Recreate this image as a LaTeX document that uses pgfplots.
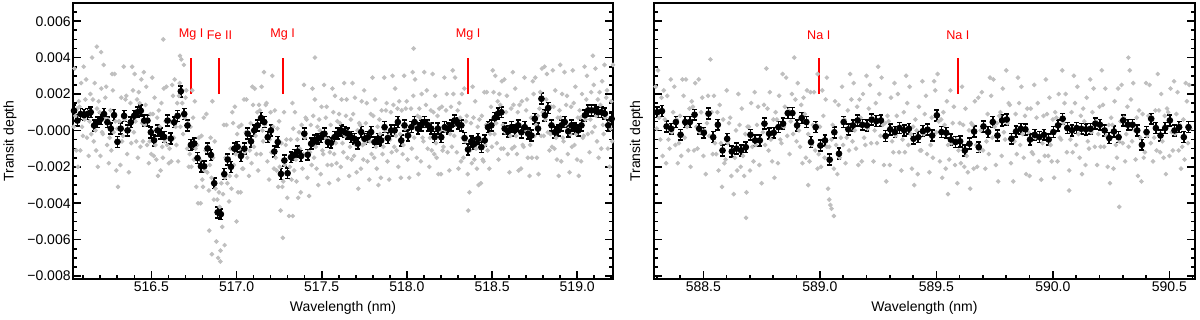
\documentclass[border=0pt]{standalone}
\usepackage{pgfplots}
\pgfplotsset{compat=1.18}
\usepackage{fontspec}
\setmainfont{Liberation Sans}
\definecolor{cloud}{gray}{0.75}

\pgfplotsset{
  panel/.style={
    scale only axis, height=138pt,
    ymin=-0.00816, ymax=0.0070,
    axis line style={line width=1pt},
    every tick/.style={black, line width=0.8pt},
    tick align=inside, xtick pos=left, ytick pos=both,
    major tick length=4pt, minor tick length=2pt,
    ytick={-0.008,-0.006,-0.004,-0.002,0,0.002,0.004,0.006},
    minor ytick={-0.0075,-0.007,-0.0065,-0.0055,-0.005,-0.0045,-0.0035,-0.003,-0.0025,-0.0015,-0.001,-0.0005,0.0005,0.001,0.0015,0.0025,0.003,0.0035,0.0045,0.005,0.0055,0.0065},
    scaled y ticks=false,
    tick label style={font=\fontsize{7}{8}\selectfont},
    xticklabel style={inner sep=0.8pt, yshift=-0.6pt},
    yticklabel style={inner sep=1pt},
    label style={font=\fontsize{7}{8}\selectfont},
    xlabel={Wavelength (nm)},
    ylabel={Transit depth},
    xlabel style={at={(axis description cs:0.5,-0.105)}, anchor=center},
  },
  gray pts/.style={only marks, mark=*, mark size=0.95pt, color=cloud},
  bins/.style={only marks, mark=*, mark size=1.45pt, black,
    error bars/.cd, y dir=both, y fixed=0.0003,
    error bar style={line width=0.8pt, black},
    error mark options={rotate=90, mark size=1.2pt, line width=0.8pt, black}},
}
\tikzset{tag/.style={red, font=\fontsize{6.3}{7}\selectfont}}

\begin{document}
\begin{tikzpicture}
% ---------------- left panel: Mg I / Fe II ----------------
\begin{axis}[panel, at={(36.5pt,20.5pt)}, anchor=south west, width=270pt,
  xmin=516.04, xmax=519.21,
  xtick={516.5,517,517.5,518,518.5,519},
  xticklabels={516.5,517.0,517.5,518.0,518.5,519.0},
  minor xtick={516.1,516.2,516.3,516.4,516.6,516.7,516.8,516.9,517.1,517.2,517.3,517.4,517.6,517.7,517.8,517.9,518.1,518.2,518.3,518.4,518.6,518.7,518.8,518.9,519.1,519.2},
  yticklabels={−0.008,−0.006,−0.004,−0.002,−0.000,0.002,0.004,0.006},
  ylabel style={at={(axis description cs:-0.1167,0.5)}, anchor=center},
]
\addplot[gray pts] coordinates {
(516.039,0.0025)(516.044,0.0002)(516.049,0.0034)(516.054,0.0008)
(516.059,-0.0011)(516.064,0.0012)(516.069,-0.0020)(516.074,0.0016)
(516.078,0.0013)(516.083,-0.0011)(516.088,0.0026)(516.093,0.0002)
(516.098,-0.0003)(516.103,0.0035)(516.108,0.0006)(516.113,0.0017)
(516.117,0.0028)(516.122,-0.0004)(516.127,0.0010)(516.132,-0.0014)
(516.137,0.0005)(516.142,0.0020)(516.147,-0.0002)(516.152,0.0040)
(516.157,0.0017)(516.162,-0.0006)(516.167,0.0026)(516.172,0)
(516.176,-0.0011)(516.181,0.0012)(516.186,-0.0020)(516.191,0.0016)
(516.196,0.0010)(516.201,-0.0014)(516.206,0.0023)(516.211,-0.0001)
(516.215,-0.0002)(516.220,0.0036)(516.225,0.0007)(516.230,0.0018)
(516.235,0.0024)(516.240,-0.0008)(516.245,0.0006)(516.250,-0.0018)
(516.255,-0.0004)(516.260,0.0011)(516.265,-0.0011)(516.270,0.0031)
(516.274,0.0022)(516.279,-0.0001)(516.284,0.0031)(516.289,0.0005)
(516.294,-0.0022)(516.299,0.0001)(516.304,-0.0031)(516.309,0.0005)
(516.313,0.0005)(516.318,-0.0019)(516.323,0.0018)(516.328,-0.0006)
(516.333,-0.0003)(516.338,0.0035)(516.343,0.0006)(516.348,0.0017)
(516.353,0.0019)(516.358,-0.0013)(516.363,0.0001)(516.368,-0.0023)
(516.372,0)(516.377,0.0015)(516.382,-0.0007)(516.387,0.0035)
(516.392,0.0022)(516.397,-0.0001)(516.402,0.0031)(516.407,0.0005)
(516.411,-0.0006)(516.416,0.0017)(516.421,-0.0015)(516.426,0.0021)
(516.431,0.0015)(516.436,-0.0009)(516.441,0.0028)(516.446,0.0004)
(516.451,-0.0006)(516.456,0.0032)(516.461,0.0003)(516.466,0.0014)
(516.470,0.0024)(516.475,-0.0008)(516.480,0.0006)(516.485,-0.0018)
(516.490,-0.0006)(516.495,0.0009)(516.500,-0.0013)(516.505,0.0029)
(516.509,0.0009)(516.514,-0.0014)(516.519,0.0018)(516.524,-0.0008)
(516.529,-0.0016)(516.534,0.0007)(516.539,-0.0025)(516.544,0.0011)
(516.549,0.0002)(516.554,-0.0022)(516.559,0.0015)(516.564,-0.0009)
(516.568,-0.0015)(516.573,0.0023)(516.578,-0.0006)(516.583,0.0005)
(516.588,0.0024)(516.593,-0.0008)(516.598,0.0006)(516.603,-0.0018)
(516.607,-0.0010)(516.612,0.0005)(516.617,-0.0017)(516.622,0.0025)
(516.627,0.0019)(516.632,-0.0004)(516.637,0.0028)(516.642,0.0002)
(516.647,-0.0008)(516.652,0.0015)(516.657,-0.0017)(516.662,0.0019)
(516.666,0.0026)(516.671,0.0002)(516.676,0.0039)(516.681,0.0015)
(516.686,-0.0002)(516.691,0.0036)(516.696,0.0007)(516.701,0.0018)
(516.705,0.0022)(516.710,-0.0010)(516.715,0.0004)(516.720,-0.0020)
(516.725,-0.0013)(516.730,0.0002)(516.735,-0.0020)(516.740,0.0022)
(516.745,0.0007)(516.750,-0.0016)(516.755,0.0016)(516.760,-0.0010)
(516.764,-0.0031)(516.769,-0.0008)(516.774,-0.0040)(516.779,-0.0004)
(516.784,-0.0016)(516.789,-0.0040)(516.794,-0.0003)(516.799,-0.0027)
(516.803,-0.0031)(516.808,0.0007)(516.813,-0.0022)(516.818,-0.0011)
(516.823,0.0009)(516.828,-0.0023)(516.833,-0.0009)(516.838,-0.0033)
(516.843,-0.0019)(516.848,-0.0004)(516.853,-0.0026)(516.858,0.0016)
(516.862,-0.0015)(516.867,-0.0038)(516.872,-0.0006)(516.877,-0.0032)
(516.882,-0.0061)(516.887,-0.0038)(516.892,-0.0070)(516.897,-0.0034)
(516.901,-0.0042)(516.906,-0.0066)(516.911,-0.0029)(516.916,-0.0053)
(516.921,-0.0035)(516.926,0.0003)(516.931,-0.0026)(516.936,-0.0015)
(516.941,0.0003)(516.946,-0.0029)(516.951,-0.0015)(516.956,-0.0039)
(516.960,-0.0025)(516.965,-0.0010)(516.970,-0.0032)(516.975,0.0010)
(516.980,0.0004)(516.985,-0.0019)(516.990,0.0013)(516.995,-0.0013)
(516.999,-0.0025)(517.004,-0.0002)(517.009,-0.0034)(517.014,0.0002)
(517.019,-0.0010)(517.024,-0.0034)(517.029,0.0003)(517.034,-0.0021)
(517.039,-0.0021)(517.044,0.0017)(517.049,-0.0012)(517.054,-0.0001)
(517.058,0.0017)(517.063,-0.0015)(517.068,-0.0001)(517.073,-0.0025)
(517.078,-0.0011)(517.083,0.0004)(517.088,-0.0018)(517.093,0.0024)
(517.097,0.0014)(517.102,-0.0009)(517.107,0.0023)(517.112,-0.0003)
(517.117,-0.0013)(517.122,0.0010)(517.127,-0.0022)(517.132,0.0014)
(517.137,0.0011)(517.142,-0.0013)(517.147,0.0024)(517.152,0)
(517.156,-0.0006)(517.161,0.0032)(517.166,0.0003)(517.171,0.0014)
(517.176,0.0015)(517.181,-0.0017)(517.186,-0.0003)(517.191,-0.0027)
(517.195,-0.0005)(517.200,0.0010)(517.205,-0.0012)(517.210,0.0030)
(517.215,0.0002)(517.220,-0.0021)(517.225,0.0011)(517.230,-0.0015)
(517.235,-0.0022)(517.240,0.0001)(517.245,-0.0031)(517.250,0.0005)
(517.254,-0.0020)(517.259,-0.0044)(517.264,-0.0007)(517.269,-0.0031)
(517.274,-0.0028)(517.279,0.0010)(517.284,-0.0019)(517.289,-0.0008)
(517.293,-0.0005)(517.298,-0.0037)(517.303,-0.0023)(517.308,-0.0047)
(517.313,-0.0020)(517.318,-0.0005)(517.323,-0.0027)(517.328,0.0015)
(517.333,0.0001)(517.338,-0.0022)(517.343,0.0010)(517.348,-0.0016)
(517.352,-0.0028)(517.357,-0.0005)(517.362,-0.0037)(517.367,-0.0001)
(517.372,-0.0010)(517.377,-0.0034)(517.382,0.0003)(517.387,-0.0021)
(517.391,-0.0013)(517.396,0.0025)(517.401,-0.0004)(517.406,0.0007)
(517.411,0.0006)(517.416,-0.0026)(517.421,-0.0012)(517.426,-0.0036)
(517.431,-0.0012)(517.436,0.0003)(517.441,-0.0019)(517.446,0.0023)
(517.450,0.0008)(517.455,-0.0015)(517.460,0.0017)(517.465,-0.0009)
(517.470,-0.0021)(517.475,0.0002)(517.480,-0.0030)(517.485,0.0006)
(517.489,0)(517.494,-0.0024)(517.499,0.0013)(517.504,-0.0011)
(517.509,-0.0013)(517.514,0.0025)(517.519,-0.0004)(517.524,0.0007)
(517.529,0.0013)(517.534,-0.0019)(517.539,-0.0005)(517.544,-0.0029)
(517.548,-0.0012)(517.553,0.0003)(517.558,-0.0019)(517.563,0.0023)
(517.568,0.0010)(517.573,-0.0013)(517.578,0.0019)(517.583,-0.0007)
(517.587,-0.0018)(517.592,0.0005)(517.597,-0.0027)(517.602,0.0009)
(517.607,0.0004)(517.612,-0.0020)(517.617,0.0017)(517.622,-0.0007)
(517.627,-0.0012)(517.632,0.0026)(517.637,-0.0003)(517.642,0.0008)
(517.646,0.0017)(517.651,-0.0015)(517.656,-0.0001)(517.661,-0.0025)
(517.666,-0.0009)(517.671,0.0006)(517.676,-0.0016)(517.681,0.0026)
(517.685,0.0009)(517.690,-0.0014)(517.695,0.0018)(517.700,-0.0008)
(517.705,-0.0023)(517.710,0)(517.715,-0.0032)(517.720,0.0004)
(517.725,0.0003)(517.730,-0.0021)(517.735,0.0016)(517.740,-0.0008)
(517.744,-0.0016)(517.749,0.0022)(517.754,-0.0007)(517.759,0.0004)
(517.764,0.0015)(517.769,-0.0017)(517.774,-0.0003)(517.779,-0.0027)
(517.783,-0.0006)(517.788,0.0009)(517.793,-0.0013)(517.798,0.0029)
(517.803,0.0008)(517.808,-0.0015)(517.813,0.0017)(517.818,-0.0009)
(517.823,-0.0021)(517.828,0.0002)(517.833,-0.0030)(517.838,0.0006)
(517.842,-0.0002)(517.847,-0.0026)(517.852,0.0011)(517.857,-0.0013)
(517.862,-0.0009)(517.867,0.0029)(517.872,0)(517.877,0.0011)
(517.881,0.0015)(517.886,-0.0017)(517.891,-0.0003)(517.896,-0.0027)
(517.901,-0.0005)(517.906,0.0010)(517.911,-0.0012)(517.916,0.0030)
(517.921,0.0014)(517.926,-0.0009)(517.931,0.0023)(517.936,-0.0003)
(517.940,-0.0011)(517.945,0.0012)(517.950,-0.0020)(517.955,0.0016)
(517.960,-0.0002)(517.965,-0.0026)(517.970,0.0011)(517.975,-0.0013)
(517.979,-0.0008)(517.984,0.0030)(517.989,0.0001)(517.994,0.0012)
(517.999,0.0016)(518.004,-0.0016)(518.009,-0.0002)(518.014,-0.0026)
(518.019,-0.0003)(518.024,0.0012)(518.029,-0.0010)(518.034,0.0032)
(518.038,0.0019)(518.043,-0.0004)(518.048,0.0028)(518.053,0.0002)
(518.058,-0.0015)(518.063,0.0008)(518.068,-0.0024)(518.073,0.0012)
(518.077,0.0007)(518.082,-0.0017)(518.087,0.0020)(518.092,-0.0004)
(518.097,-0.0006)(518.102,0.0032)(518.107,0.0003)(518.112,0.0014)
(518.117,0.0022)(518.122,-0.0010)(518.127,0.0004)(518.132,-0.0020)
(518.136,-0.0004)(518.141,0.0011)(518.146,-0.0011)(518.151,0.0031)
(518.156,0.0010)(518.161,-0.0013)(518.166,0.0019)(518.171,-0.0007)
(518.175,-0.0015)(518.180,0.0008)(518.185,-0.0024)(518.190,0.0012)
(518.195,0)(518.200,-0.0024)(518.205,0.0013)(518.210,-0.0011)
(518.215,-0.0009)(518.220,0.0029)(518.225,0)(518.230,0.0011)
(518.234,0.0020)(518.239,-0.0012)(518.244,0.0002)(518.249,-0.0022)
(518.254,-0.0002)(518.259,0.0013)(518.264,-0.0009)(518.269,0.0033)
(518.273,0.0020)(518.278,-0.0003)(518.283,0.0029)(518.288,0.0003)
(518.293,-0.0012)(518.298,0.0011)(518.303,-0.0021)(518.308,0.0015)
(518.313,0.0007)(518.318,-0.0017)(518.323,0.0020)(518.328,-0.0004)
(518.332,-0.0015)(518.337,0.0023)(518.342,-0.0006)(518.347,0.0005)
(518.352,0.0008)(518.357,-0.0024)(518.362,-0.0010)(518.367,-0.0034)
(518.371,-0.0011)(518.376,0.0004)(518.381,-0.0018)(518.386,0.0024)
(518.391,0.0007)(518.396,-0.0016)(518.401,0.0016)(518.406,-0.0010)
(518.411,-0.0021)(518.416,0.0002)(518.421,-0.0030)(518.426,0.0006)
(518.430,-0.0005)(518.435,-0.0029)(518.440,0.0008)(518.445,-0.0016)
(518.450,-0.0017)(518.455,0.0021)(518.460,-0.0008)(518.465,0.0003)
(518.469,0.0021)(518.474,-0.0011)(518.479,0.0003)(518.484,-0.0021)
(518.489,-0.0002)(518.494,0.0013)(518.499,-0.0009)(518.504,0.0033)
(518.509,0.0021)(518.514,-0.0002)(518.519,0.0030)(518.524,0.0004)
(518.528,-0.0007)(518.533,0.0016)(518.538,-0.0016)(518.543,0.0020)
(518.548,0.0014)(518.553,-0.0010)(518.558,0.0027)(518.563,0.0003)
(518.567,-0.0010)(518.572,0.0028)(518.577,-0.0001)(518.582,0.0010)
(518.587,0.0019)(518.592,-0.0013)(518.597,0.0001)(518.602,-0.0023)
(518.607,-0.0003)(518.612,0.0012)(518.617,-0.0010)(518.622,0.0032)
(518.626,0.0014)(518.631,-0.0009)(518.636,0.0023)(518.641,-0.0003)
(518.646,-0.0013)(518.651,0.0010)(518.656,-0.0022)(518.661,0.0014)
(518.665,0.0003)(518.670,-0.0021)(518.675,0.0016)(518.680,-0.0008)
(518.685,-0.0009)(518.690,0.0029)(518.695,0)(518.700,0.0011)
(518.705,0.0017)(518.710,-0.0015)(518.715,-0.0001)(518.720,-0.0025)
(518.724,-0.0008)(518.729,0.0007)(518.734,-0.0015)(518.739,0.0027)
(518.744,0.0020)(518.749,-0.0003)(518.754,0.0029)(518.759,0.0003)
(518.763,-0.0015)(518.768,0.0008)(518.773,-0.0024)(518.778,0.0012)
(518.783,0.0021)(518.788,-0.0003)(518.793,0.0034)(518.798,0.0010)
(518.803,-0.0003)(518.808,0.0035)(518.813,0.0006)(518.818,0.0017)
(518.822,0.0031)(518.827,-0.0001)(518.832,0.0013)(518.837,-0.0011)
(518.842,-0.0002)(518.847,0.0013)(518.852,-0.0009)(518.857,0.0033)
(518.861,0.0013)(518.866,-0.0010)(518.871,0.0022)(518.876,-0.0004)
(518.881,-0.0016)(518.886,0.0007)(518.891,-0.0025)(518.896,0.0011)
(518.901,0.0007)(518.906,-0.0017)(518.911,0.0020)(518.916,-0.0004)
(518.920,-0.0006)(518.925,0.0032)(518.930,0.0003)(518.935,0.0014)
(518.940,0.0019)(518.945,-0.0013)(518.950,0.0001)(518.955,-0.0023)
(518.959,-0.0002)(518.964,0.0013)(518.969,-0.0009)(518.974,0.0033)
(518.979,0.0015)(518.984,-0.0008)(518.989,0.0024)(518.994,-0.0002)
(518.999,-0.0016)(519.004,0.0007)(519.009,-0.0025)(519.014,0.0011)
(519.018,0.0007)(519.023,-0.0017)(519.028,0.0020)(519.033,-0.0004)
(519.038,-0.0003)(519.043,0.0035)(519.048,0.0006)(519.053,0.0017)
(519.057,0.0030)(519.062,-0.0002)(519.067,0.0012)(519.072,-0.0012)
(519.077,0.0006)(519.082,0.0021)(519.087,-0.0001)(519.092,0.0041)
(519.097,0.0025)(519.102,0.0002)(519.107,0.0034)(519.112,0.0008)
(519.116,-0.0006)(519.121,0.0017)(519.126,-0.0015)(519.131,0.0021)
(519.136,0.0014)(519.141,-0.0010)(519.146,0.0027)(519.151,0.0003)
(519.155,-0.0002)(519.160,0.0036)(519.165,0.0007)(519.170,0.0018)
(519.175,0.0022)(519.180,-0.0010)(519.185,0.0004)(519.190,-0.0020)
(519.195,0.0001)(519.200,0.0016)(519.205,-0.0006)(519.210,0.0036)
(516.180,0.0046)(516.205,0.0043)(516.570,0.0050)(516.668,0.0041)
(516.855,-0.0068)(516.905,-0.0072)(516.930,-0.0063)(517.272,-0.0059)
(517.330,-0.0047)(518.040,0.0045)(517.000,-0.0050)(516.840,-0.0055)
(517.460,0.0040)(518.900,0.0036)(518.360,-0.0044)
};
\addplot[red, line width=1pt] coordinates {(516.733,0.002)(516.733,0.004)};
\addplot[red, line width=1pt] coordinates {(516.900,0.002)(516.900,0.004)};
\addplot[red, line width=1pt] coordinates {(517.270,0.002)(517.270,0.004)};
\addplot[red, line width=1pt] coordinates {(518.360,0.002)(518.360,0.004)};
\node[tag] at (axis cs:516.733,0.00525) {Mg I};
\node[tag] at (axis cs:516.900,0.00525) {Fe II};
\node[tag] at (axis cs:517.270,0.00525) {Mg I};
\node[tag] at (axis cs:518.360,0.00525) {Mg I};
\addplot[bins] coordinates {
(516.046,0.00108)(516.066,0.00054)(516.085,0.0009)(516.105,0.00084)(516.124,0.0009)
(516.144,0.001)(516.164,0.00027)(516.183,0.00045)(516.203,0.00063)(516.222,0.0009)
(516.242,0.00045)(516.262,0.0001)(516.281,0.00084)(516.301,-0.00063)(516.320,0.0001)
(516.340,0.0008)(516.360,0)(516.379,0.00045)(516.399,0.0008)(516.418,0.001)
(516.438,0.00108)(516.458,0.00054)(516.477,0.00054)(516.497,-0.0001)(516.516,-0.00054)
(516.536,0)(516.556,-0.00018)(516.575,-0.00036)(516.595,0.00054)(516.614,-0.00045)
(516.634,0.00045)(516.654,0.0008)(516.673,0.00215)(516.693,0.0009)(516.712,0.00027)
(516.732,-0.0008)(516.752,-0.00072)(516.771,-0.00152)(516.791,-0.00197)(516.810,-0.00197)
(516.830,-0.00099)(516.850,-0.00135)(516.869,-0.0029)(516.889,-0.0045)(516.908,-0.0046)
(516.928,-0.0024)(516.948,-0.0016)(516.967,-0.002)(516.987,-0.001)(517.006,-0.0009)
(517.026,-0.0014)(517.046,-0.001)(517.065,-0.00018)(517.085,-0.0006)(517.104,0)
(517.124,0.00028)(517.144,0.00068)(517.163,0.00046)(517.183,-0.00037)(517.202,0)
(517.222,-0.00116)(517.242,-0.00064)(517.261,-0.00239)(517.281,-0.00165)(517.300,-0.00235)
(517.320,-0.00147)(517.340,-0.00134)(517.359,-0.00116)(517.379,-0.00141)(517.398,-0.00018)
(517.418,-0.00134)(517.438,-0.00073)(517.457,-0.00055)(517.477,-0.00046)(517.496,-0.00037)
(517.516,-0.00018)(517.536,-0.00064)(517.555,-0.00068)(517.575,-0.00037)(517.594,-0.00018)
(517.614,0)(517.634,-0.00009)(517.653,-0.00018)(517.673,-0.00037)(517.692,-0.00046)
(517.712,-0.00073)(517.732,-0.00009)(517.751,-0.00046)(517.771,-0.00037)(517.790,-0.00009)
(517.810,-0.00064)(517.830,-0.00046)(517.849,-0.00055)(517.869,0.00018)(517.888,-0.00042)
(517.908,0)(517.928,0)(517.947,0.00046)(517.967,-0.00055)(517.986,0.00028)
(518.006,-0.00028)(518.026,0.00018)(518.045,0.00046)(518.065,0.0001)(518.084,0.00028)
(518.104,0.00046)(518.124,0.00028)(518.143,0.0001)(518.163,-0.00037)(518.182,0.0001)
(518.202,-0.00037)(518.222,0.00018)(518.241,0.0001)(518.261,0.00028)(518.280,0.00055)
(518.300,0.00037)(518.320,0.00028)(518.339,-0.00042)(518.359,-0.00105)(518.378,-0.0006)
(518.398,-0.00073)(518.418,-0.00046)(518.437,-0.00092)(518.457,-0.00055)(518.476,0.00018)
(518.496,0.00028)(518.516,0.00068)(518.535,0.00092)(518.555,0.001)(518.574,0.0001)
(518.594,-0.00005)(518.614,0.00018)(518.633,0)(518.653,0.00028)(518.672,-0.0001)
(518.692,0.00018)(518.712,-0.00018)(518.731,-0.00028)(518.751,0.00064)(518.770,0.0001)
(518.790,0.00174)(518.810,0.00083)(518.829,0.00123)(518.849,0.00028)(518.868,-0.0001)
(518.888,0)(518.908,0.00028)(518.927,0.00046)(518.947,-0.00005)(518.966,0.00028)
(518.986,0.0001)(519.006,0)(519.025,0.00028)(519.045,0.00083)(519.064,0.0011)
(519.084,0.0011)(519.104,0.0011)(519.123,0.001)(519.143,0.001)(519.162,0.00092)
(519.182,0.00028)(519.202,0.00064)
};
\end{axis}

% ---------------- right panel: Na D ----------------
\begin{axis}[panel, at={(327pt,20.5pt)}, anchor=south west, width=270.5pt,
  xmin=588.288, xmax=590.61,
  xtick={588.5,589,589.5,590,590.5},
  xticklabels={588.5,589.0,589.5,590.0,590.5},
  minor xtick={588.3,588.4,588.6,588.7,588.8,588.9,589.1,589.2,589.3,589.4,589.6,589.7,589.8,589.9,590.1,590.2,590.3,590.4,590.6},
  yticklabels={},
  ylabel style={at={(axis description cs:-0.0322,0.5)}, anchor=center},
]
\addplot[gray pts] coordinates {
(588.295,0.0024)(588.300,0.0001)(588.305,0.0033)(588.310,0.0007)
(588.315,-0.0005)(588.320,0.0018)(588.325,-0.0014)(588.330,0.0022)
(588.335,0.0006)(588.340,-0.0018)(588.345,0.0019)(588.350,-0.0005)
(588.355,-0.0010)(588.360,0.0028)(588.365,-0.0001)(588.370,0.0010)
(588.375,0.0024)(588.380,-0.0008)(588.385,0.0006)(588.390,-0.0018)
(588.395,-0.0007)(588.400,0.0008)(588.405,-0.0014)(588.410,0.0028)
(588.415,0.0019)(588.420,-0.0004)(588.425,0.0028)(588.430,0.0002)
(588.435,-0.0011)(588.440,0.0012)(588.445,-0.0020)(588.450,0.0016)
(588.455,0.0013)(588.460,-0.0011)(588.465,0.0026)(588.470,0.0002)
(588.475,-0.0010)(588.480,0.0028)(588.485,-0.0001)(588.490,0.0010)
(588.495,0.0018)(588.500,-0.0014)(588.505,0)(588.510,-0.0024)
(588.515,0.0004)(588.520,0.0019)(588.525,-0.0003)(588.530,0.0039)
(588.535,0.0010)(588.540,-0.0013)(588.545,0.0019)(588.550,-0.0007)
(588.555,-0.0013)(588.560,0.0010)(588.565,-0.0022)(588.570,0.0014)
(588.575,-0.0007)(588.580,-0.0031)(588.585,0.0006)(588.590,-0.0018)
(588.595,-0.0016)(588.600,0.0022)(588.605,-0.0007)(588.610,0.0004)
(588.615,0.0007)(588.620,-0.0025)(588.625,-0.0011)(588.630,-0.0035)
(588.635,-0.0015)(588.640,0)(588.645,-0.0022)(588.650,0.0020)
(588.655,0.0003)(588.660,-0.0020)(588.665,0.0012)(588.670,-0.0014)
(588.675,-0.0025)(588.680,-0.0002)(588.685,-0.0034)(588.690,0.0002)
(588.695,0.0002)(588.700,-0.0022)(588.705,0.0015)(588.710,-0.0009)
(588.715,-0.0017)(588.720,0.0021)(588.725,-0.0008)(588.730,0.0003)
(588.735,0.0013)(588.740,-0.0019)(588.745,-0.0005)(588.750,-0.0029)
(588.755,-0.0001)(588.760,0.0014)(588.765,-0.0008)(588.770,0.0034)
(588.775,0.0012)(588.780,-0.0011)(588.785,0.0021)(588.790,-0.0005)
(588.795,-0.0017)(588.800,0.0006)(588.805,-0.0026)(588.810,0.0010)
(588.815,0.0006)(588.820,-0.0018)(588.825,0.0019)(588.830,-0.0005)
(588.835,-0.0007)(588.840,0.0031)(588.845,0.0002)(588.850,0.0013)
(588.855,0.0029)(588.860,-0.0003)(588.865,0.0011)(588.870,-0.0013)
(588.875,0.0005)(588.880,0.0020)(588.885,-0.0002)(588.890,0.0040)
(588.895,0.0017)(588.900,-0.0006)(588.905,0.0026)(588.910,0)
(588.915,-0.0009)(588.920,0.0014)(588.925,-0.0018)(588.930,0.0018)
(588.935,0.0009)(588.940,-0.0015)(588.945,0.0022)(588.950,-0.0002)
(588.955,-0.0017)(588.960,0.0021)(588.965,-0.0008)(588.970,0.0003)
(588.975,0.0021)(588.980,-0.0011)(588.985,0.0003)(588.990,-0.0021)
(588.995,-0.0013)(589.000,0.0002)(589.005,-0.0020)(589.010,0.0022)
(589.015,0.0008)(589.020,-0.0015)(589.025,0.0017)(589.030,-0.0009)
(589.035,-0.0032)(589.040,-0.0009)(589.045,-0.0041)(589.050,-0.0005)
(589.055,0.0003)(589.060,-0.0021)(589.065,0.0016)(589.070,-0.0008)
(589.075,-0.0024)(589.080,0.0014)(589.085,-0.0015)(589.090,-0.0004)
(589.095,0.0024)(589.100,-0.0008)(589.105,0.0006)(589.110,-0.0018)
(589.115,-0.0004)(589.120,0.0011)(589.125,-0.0011)(589.130,0.0031)
(589.135,0.0017)(589.140,-0.0006)(589.145,0.0026)(589.150,0)
(589.155,-0.0010)(589.160,0.0013)(589.165,-0.0019)(589.170,0.0017)
(589.175,0.0007)(589.180,-0.0017)(589.185,0.0020)(589.190,-0.0004)
(589.195,-0.0008)(589.200,0.0030)(589.205,0.0001)(589.210,0.0012)
(589.215,0.0025)(589.220,-0.0007)(589.225,0.0007)(589.230,-0.0017)
(589.235,0)(589.240,0.0015)(589.245,-0.0007)(589.250,0.0035)
(589.255,0.0020)(589.260,-0.0003)(589.265,0.0029)(589.270,0.0003)
(589.275,-0.0019)(589.280,0.0004)(589.285,-0.0028)(589.290,0.0008)
(589.295,0.0005)(589.300,-0.0019)(589.305,0.0018)(589.310,-0.0006)
(589.315,-0.0012)(589.320,0.0026)(589.325,-0.0003)(589.330,0.0008)
(589.335,0.0020)(589.340,-0.0012)(589.345,0.0002)(589.350,-0.0022)
(589.355,-0.0005)(589.360,0.0010)(589.365,-0.0012)(589.370,0.0030)
(589.375,0.0015)(589.380,-0.0008)(589.385,0.0024)(589.390,-0.0002)
(589.395,-0.0021)(589.400,0.0002)(589.405,-0.0030)(589.410,0.0006)
(589.415,0)(589.420,-0.0024)(589.425,0.0013)(589.430,-0.0011)
(589.435,-0.0011)(589.440,0.0027)(589.445,-0.0002)(589.450,0.0009)
(589.455,0.0019)(589.460,-0.0013)(589.465,0.0001)(589.470,-0.0023)
(589.475,-0.0008)(589.480,0.0007)(589.485,-0.0015)(589.490,0.0027)
(589.495,0.0022)(589.500,-0.0001)(589.505,0.0031)(589.510,0.0005)
(589.515,-0.0017)(589.520,0.0006)(589.525,-0.0026)(589.530,0.0010)
(589.535,0.0003)(589.540,-0.0021)(589.545,0.0016)(589.550,-0.0008)
(589.555,-0.0016)(589.560,0.0022)(589.565,-0.0007)(589.570,0.0004)
(589.575,0.0013)(589.580,-0.0019)(589.585,-0.0005)(589.590,-0.0029)
(589.595,-0.0011)(589.600,0.0004)(589.605,-0.0018)(589.610,0.0024)
(589.615,0.0003)(589.620,-0.0020)(589.625,0.0012)(589.630,-0.0014)
(589.635,-0.0023)(589.640,0)(589.645,-0.0032)(589.650,0.0004)
(589.655,0.0003)(589.660,-0.0021)(589.665,0.0016)(589.670,-0.0008)
(589.675,-0.0020)(589.680,0.0018)(589.685,-0.0011)(589.690,0)
(589.695,0.0021)(589.700,-0.0011)(589.705,0.0003)(589.710,-0.0021)
(589.715,-0.0006)(589.720,0.0009)(589.725,-0.0013)(589.730,0.0029)
(589.735,0.0019)(589.740,-0.0004)(589.745,0.0028)(589.750,0.0002)
(589.755,-0.0019)(589.760,0.0004)(589.765,-0.0028)(589.770,0.0008)
(589.775,0.0010)(589.780,-0.0014)(589.785,0.0023)(589.790,-0.0001)
(589.795,-0.0005)(589.800,0.0033)(589.805,0.0004)(589.810,0.0015)
(589.815,0.0014)(589.820,-0.0018)(589.825,-0.0004)(589.830,-0.0028)
(589.835,-0.0006)(589.840,0.0009)(589.845,-0.0013)(589.850,0.0029)
(589.855,0.0015)(589.860,-0.0008)(589.865,0.0024)(589.870,-0.0002)
(589.875,-0.0015)(589.880,0.0008)(589.885,-0.0024)(589.890,0.0012)
(589.895,-0.0001)(589.900,-0.0025)(589.905,0.0012)(589.910,-0.0012)
(589.915,-0.0013)(589.920,0.0025)(589.925,-0.0004)(589.930,0.0007)
(589.935,0.0015)(589.940,-0.0017)(589.945,-0.0003)(589.950,-0.0027)
(589.955,-0.0007)(589.960,0.0008)(589.965,-0.0014)(589.970,0.0028)
(589.975,0.0009)(589.980,-0.0014)(589.985,0.0018)(589.990,-0.0008)
(589.995,-0.0017)(590.000,0.0006)(590.005,-0.0026)(590.010,0.0010)
(590.015,0.0007)(590.020,-0.0017)(590.025,0.0020)(590.030,-0.0004)
(590.035,-0.0005)(590.040,0.0033)(590.045,0.0004)(590.050,0.0015)
(590.055,0.0020)(590.060,-0.0012)(590.065,0.0002)(590.070,-0.0022)
(590.075,-0.0005)(590.080,0.0010)(590.085,-0.0012)(590.090,0.0030)
(590.095,0.0015)(590.100,-0.0008)(590.105,0.0024)(590.110,-0.0002)
(590.115,-0.0015)(590.120,0.0008)(590.125,-0.0024)(590.130,0.0012)
(590.135,0.0005)(590.140,-0.0019)(590.145,0.0018)(590.150,-0.0006)
(590.155,-0.0010)(590.160,0.0028)(590.165,-0.0001)(590.170,0.0010)
(590.175,0.0023)(590.180,-0.0009)(590.185,0.0005)(590.190,-0.0019)
(590.195,-0.0002)(590.200,0.0013)(590.205,-0.0009)(590.210,0.0033)
(590.215,0.0014)(590.220,-0.0009)(590.225,0.0023)(590.230,-0.0003)
(590.235,-0.0020)(590.240,0.0003)(590.245,-0.0029)(590.250,0.0007)
(590.255,0.0003)(590.260,-0.0021)(590.265,0.0016)(590.270,-0.0008)
(590.275,-0.0015)(590.280,0.0023)(590.285,-0.0006)(590.290,0.0005)
(590.295,0.0025)(590.300,-0.0007)(590.305,0.0007)(590.310,-0.0017)
(590.315,-0.0002)(590.320,0.0013)(590.325,-0.0009)(590.330,0.0033)
(590.335,0.0017)(590.340,-0.0006)(590.345,0.0026)(590.350,0)
(590.355,-0.0016)(590.360,0.0007)(590.365,-0.0025)(590.370,0.0011)
(590.375,-0.0004)(590.380,-0.0028)(590.385,0.0009)(590.390,-0.0015)
(590.395,-0.0012)(590.400,0.0026)(590.405,-0.0003)(590.410,0.0008)
(590.415,0.0025)(590.420,-0.0007)(590.425,0.0007)(590.430,-0.0017)
(590.435,-0.0004)(590.440,0.0011)(590.445,-0.0011)(590.450,0.0031)
(590.455,0.0011)(590.460,-0.0012)(590.465,0.0020)(590.470,-0.0006)
(590.475,-0.0015)(590.480,0.0008)(590.485,-0.0024)(590.490,0.0012)
(590.495,0.0010)(590.500,-0.0014)(590.505,0.0023)(590.510,-0.0001)
(590.515,-0.0011)(590.520,0.0027)(590.525,-0.0002)(590.530,0.0009)
(590.535,0.0021)(590.540,-0.0011)(590.545,0.0003)(590.550,-0.0021)
(590.555,-0.0009)(590.560,0.0006)(590.565,-0.0016)(590.570,0.0026)
(590.575,0.0016)(590.580,-0.0007)(590.585,0.0025)(590.590,0.0001)
(588.683,-0.0048)(589.040,-0.0038)(589.050,-0.0043)(589.060,-0.0047)
(588.950,-0.0030)(590.285,-0.0042)(590.324,0.0040)(588.990,0.0031)
(589.030,0.0029)(589.550,-0.0035)(590.070,-0.0033)
};
\addplot[red, line width=1pt] coordinates {(588.995,0.002)(588.995,0.004)};
\addplot[red, line width=1pt] coordinates {(589.592,0.002)(589.592,0.004)};
\node[tag] at (axis cs:588.995,0.00525) {Na I};
\node[tag] at (axis cs:589.592,0.00525) {Na I};
\addplot[bins] coordinates {
(588.302,0.001)(588.322,0.00106)(588.342,0.00022)(588.362,0.00009)(588.382,0.00046)
(588.402,-0.00024)(588.422,0.00046)(588.442,0.00046)(588.462,0.00086)(588.482,0.00009)
(588.502,-0.00013)(588.522,0.00092)(588.542,-0.00037)(588.562,0.00031)(588.582,-0.0011)
(588.602,-0.00046)(588.622,-0.00116)(588.642,-0.001)(588.662,-0.0011)(588.682,-0.00092)
(588.702,-0.00024)(588.722,-0.00055)(588.742,-0.00055)(588.762,0.00037)(588.782,-0.00018)
(588.802,-0.00013)(588.822,0.00018)(588.842,0.00037)(588.862,0.00095)(588.882,0.00095)
(588.902,0.00028)(588.922,0.00068)(588.942,0.00046)(588.962,-0.00064)(588.982,0.00018)
(589.002,-0.00083)(589.022,-0.00055)(589.042,-0.00161)(589.062,-0.0001)(589.082,-0.00128)
(589.102,0.00046)(589.122,0.00006)(589.142,0.00028)(589.162,0.00055)(589.182,0.00031)
(589.202,0.00028)(589.222,0.00059)(589.242,0.00051)(589.262,0.00055)(589.282,-0.00031)
(589.302,0.00006)(589.322,-0.00009)(589.342,0.00013)(589.362,0)(589.382,0.00009)
(589.402,-0.00046)(589.422,-0.00037)(589.442,-0.00004)(589.462,0.00004)(589.482,-0.00028)
(589.502,0.00083)(589.522,-0.00009)(589.542,-0.00013)(589.562,-0.0005)(589.582,-0.00064)
(589.602,-0.0006)(589.622,-0.0011)(589.642,-0.00073)(589.662,-0.00006)(589.682,-0.00092)
(589.702,0.00022)(589.722,-0.00009)(589.742,0.00046)(589.762,-0.00028)(589.782,0.00055)
(589.802,0.0006)(589.822,-0.00046)(589.842,-0.00006)(589.862,0.00009)(589.882,0.00006)
(589.902,-0.0005)(589.922,-0.00024)(589.942,-0.00037)(589.962,-0.00024)(589.982,-0.0005)
(590.002,-0.00009)(590.022,0.00028)(590.042,0.00064)(590.062,0.00013)(590.082,0)
(590.102,0.00013)(590.122,0.00009)(590.142,0.00006)(590.162,0.00009)(590.182,0.00037)
(590.202,0.00031)(590.222,0)(590.242,-0.00042)(590.262,-0.00006)(590.282,-0.00037)
(590.302,0.00055)(590.322,0.00031)(590.342,0.00031)(590.362,0)(590.382,-0.00079)
(590.402,-0.00009)(590.422,0.00064)(590.442,0.00013)(590.462,-0.00028)(590.482,0.00013)
(590.502,0.00055)(590.522,0)(590.542,0.00018)(590.562,-0.00037)(590.582,0.00018)
};
\end{axis}
\pgfresetboundingbox
\path (0pt,0pt) rectangle (600pt,160pt);
\end{tikzpicture}
\end{document}
